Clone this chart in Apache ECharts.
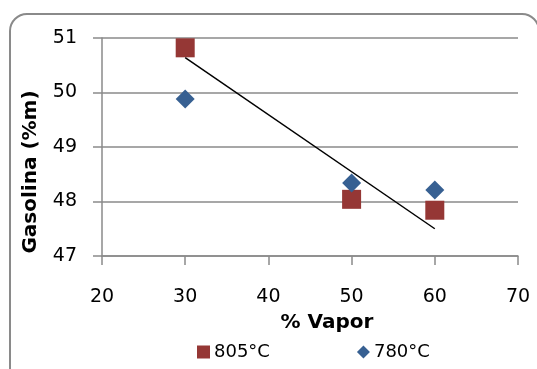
<!DOCTYPE html>
<html>
<head>
<meta charset="utf-8">
<script src="https://cdn.jsdelivr.net/npm/echarts@6/dist/echarts.min.js"></script>
<style>
  html, body { margin: 0; padding: 0; background: #fff; overflow: hidden; }
  #wrap { position: relative; width: 537px; height: 369px; overflow: hidden; }
  #chart { position: absolute; left: 0; top: 0; width: 537px; height: 369px; }
  #frame {
    position: absolute; left: 9px; top: 13px; width: 531px; height: 380px;
    border: 2px solid #8a8a8a; border-radius: 18px; box-sizing: border-box;
    pointer-events: none;
  }
</style>
</head>
<body>
<div id="wrap">
  <div id="chart"></div>
  <div id="frame"></div>
</div>
<script>
// Gasoline yield vs. steam percentage at two temperatures
const xTicks = [20, 30, 40, 50, 60, 70];
const yTicks = [47, 48, 49, 50, 51];
const vapor = [30, 50, 60];
const gasolina805 = [50.82, 48.04, 47.84];
const gasolina780 = [49.88, 48.34, 48.21];
// linear trend drawn over the 805°C points
const trendX = [30, 60];
const trendY = [50.64, 47.50];
const xTitle = '% Vapor';
const yTitle = 'Gasolina (%m)';

const FONT = 'DejaVu Sans';
const chart = echarts.init(document.getElementById('chart'), null, { renderer: 'canvas' });

chart.setOption({
  animation: false,
  backgroundColor: 'transparent',
  grid: { left: 102, right: 19, top: 38, bottom: 113 },
  legend: {
    bottom: 3,
    left: 192,
    itemGap: 87,
    itemWidth: 13,
    itemHeight: 13,
    textStyle: { fontFamily: FONT, fontSize: 18, color: '#000', padding: [0, 0, 0, -1] },
    data: [
      { name: '805°C', icon: 'rect' },
      { name: '780°C', icon: 'diamond' }
    ]
  },
  graphic: [
    {
      type: 'text',
      x: 327, y: 323,
      style: {
        text: xTitle, font: 'bold 20px "DejaVu Sans"', fill: '#000',
        textAlign: 'center', textVerticalAlign: 'middle'
      }
    },
    {
      type: 'text',
      x: 31, y: 172,
      rotation: Math.PI / 2,
      style: {
        text: yTitle, font: 'bold 20px "DejaVu Sans"', fill: '#000',
        textAlign: 'center', textVerticalAlign: 'middle'
      }
    }
  ],
  xAxis: {
    type: 'value',
    min: xTicks[0],
    max: xTicks[xTicks.length - 1],
    interval: xTicks[1] - xTicks[0],
    axisLine: { show: true, lineStyle: { color: '#8a8a8a', width: 1.5 } },
    axisTick: { show: true, inside: false, length: 9, lineStyle: { color: '#8a8a8a', width: 1.5 } },
    axisLabel: { margin: 32, fontFamily: FONT, fontSize: 19, color: '#000' },
    splitLine: { show: false }
  },
  yAxis: {
    type: 'value',
    min: yTicks[0],
    max: yTicks[yTicks.length - 1],
    interval: 1,
    axisLine: { show: true, lineStyle: { color: '#8a8a8a', width: 1.5 } },
    axisTick: { show: true, inside: false, length: 9, lineStyle: { color: '#8a8a8a', width: 1.5 } },
    axisLabel: { margin: 25, fontFamily: FONT, fontSize: 19, color: '#000' },
    splitLine: { show: true, lineStyle: { color: '#8a8a8a', width: 1.5 } }
  },
  series: [
    {
      name: 'trend',
      type: 'line',
      data: trendX.map((x, i) => [x, trendY[i]]),
      showSymbol: false,
      symbol: 'none',
      lineStyle: { color: '#000', width: 1.5 },
      z: 3,
      silent: true
    },
    {
      name: '805°C',
      type: 'scatter',
      symbol: 'rect',
      symbolSize: 19,
      itemStyle: { color: '#953735', opacity: 1 },
      data: vapor.map((x, i) => [x, gasolina805[i]]),
      z: 2
    },
    {
      name: '780°C',
      type: 'scatter',
      symbol: 'diamond',
      symbolSize: 19,
      itemStyle: { color: '#376092', opacity: 1 },
      data: vapor.map((x, i) => [x, gasolina780[i]]),
      z: 2
    }
  ]
});
</script>
</body>
</html>
